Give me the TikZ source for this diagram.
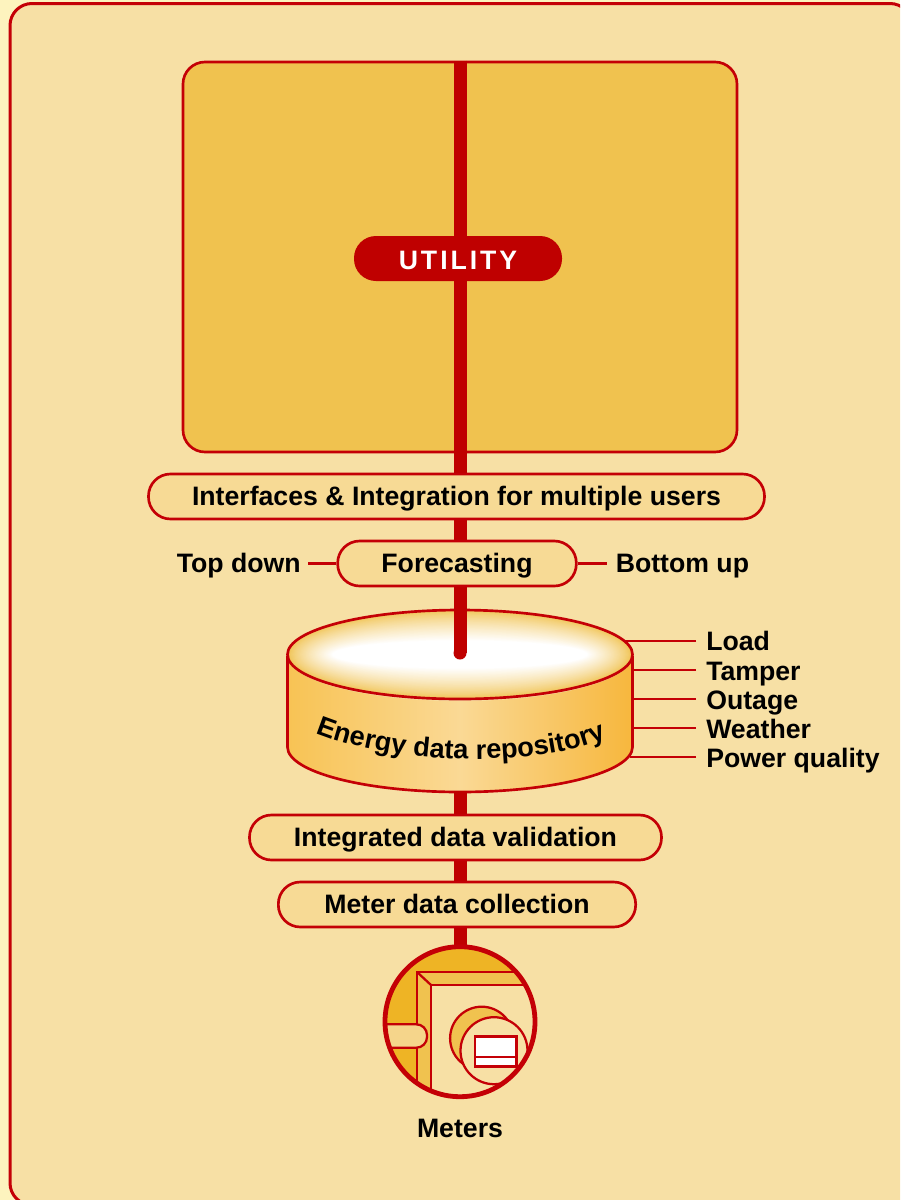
\documentclass[tikz,border=0pt]{standalone}
\usepackage{fontspec}
\setmainfont{Liberation Sans}
\usetikzlibrary{decorations.text}
\definecolor{outerbg}{HTML}{FDF3BE}
\definecolor{panel}{HTML}{F7E0A5}
\definecolor{boxfill}{HTML}{F0C24F}
\definecolor{pillfill}{HTML}{F7DA95}
\definecolor{red}{HTML}{C40006}
\definecolor{barred}{HTML}{BF0000}
\definecolor{deep}{HTML}{EEB425}
\definecolor{pipefill}{HTML}{F5D58B}
\definecolor{sideL}{HTML}{F8C354}
\definecolor{sideM}{HTML}{FAD995}
\definecolor{sideR}{HTML}{F7B73D}
\newcommand{\lbl}{\fontsize{20pt}{22pt}\selectfont\bfseries}
\tikzset{
  px/.style={x=0.75pt,y=-0.75pt},
  outline/.style={draw=red,line width=2pt},
  thin outline/.style={draw=red,line width=1.7pt},
  bar/.style={draw=barred,line width=9.75pt},
  pill/.style={outline,fill=pillfill,rounded corners=16.5pt,minimum height=33.75pt,inner sep=0pt,font=\lbl,text height=14.2pt,text depth=0pt},
  label/.style={font=\lbl,inner sep=0pt,text height=14.2pt,text depth=0pt},
  leader/.style={draw=red,line width=2pt}
}
\begin{document}
\begin{tikzpicture}[px]
\useasboundingbox (0,0) rectangle (900,1200);
\fill[outerbg] (0,0) rectangle (900,1200);
\begin{scope}
\clip (0,0) rectangle (900,1200);
\draw[outline,line width=2.25pt,fill=panel,rounded corners=16.5pt] (10,3.5) rectangle (912,1205);
\end{scope}
\node[outline,fill=boxfill,rounded corners=16.5pt,minimum width=415.5pt,minimum height=292.5pt,inner sep=0pt] (utilbox) at (460,257) {};
% repository cylinder
\coordinate (cyltop) at (460,654.5);
\coordinate (cylbot) at (460,791);
\coordinate (discend) at (460,653);
\path[left color=sideL,right color=sideR,middle color=sideM]
  (287.5,656) -- (287.5,747) arc[start angle=180,end angle=0,x radius=172.5,y radius=45] -- (632.5,656) arc[start angle=0,end angle=180,x radius=172.5,y radius=45] -- cycle;
\draw[outline] (287.5,656) -- (287.5,747) arc[start angle=180,end angle=0,x radius=172.5,y radius=45] -- (632.5,656);
\foreach \i in {0,...,40}{
  \pgfmathsetmacro{\rx}{172.5-45*\i/40}
  \pgfmathsetmacro{\ry}{45-31*\i/40}
  \pgfmathsetmacro{\pc}{100*(\i/40)^0.75}
  \fill[white!\pc!boxfill] (cyltop) ellipse[x radius=\rx,y radius=\ry];
}
\draw[outline] (cyltop) ellipse[x radius=172.5,y radius=44.5];
% main bars
\draw[bar] (utilbox.north) -- (discend);
\fill[barred] (discend) circle[radius=6.5];
\draw[bar] (cylbot) -- (460,950);
% pills
\node[fill=barred,rounded corners=16.5pt,minimum width=156pt,minimum height=33.75pt,inner sep=0pt,text=white,font=\fontsize{20pt}{22pt}\selectfont\bfseries,text height=16pt,text depth=0pt] (utility) at (458,258.5) {\addfontfeature{LetterSpace=11}UTILITY};
\node[pill,minimum width=462pt] (iface) at (456.5,496.5) {Interfaces \& Integration for multiple users};
\node[pill,minimum width=179pt] (forecast) at (457,563.5) {Forecasting};
\node[pill,minimum width=309pt] (valid) at (455.5,837.5) {Integrated data validation};
\node[pill,minimum width=268pt] (collect) at (457,904.5) {Meter data collection};
% forecasting side labels
\node[label,anchor=east] (topdown) at (301,563.5) {Top down};
\node[label,anchor=west] (bottomup) at (615.5,563.5) {Bottom up};
\draw[leader] (308,563.5) -- (forecast.west);
\draw[leader] (forecast.east) -- (607,563.5);
% repository labels
\node[label,anchor=west] (load) at (706,641) {Load};
\node[label,anchor=west] (tamper) at (706,671) {Tamper};
\node[label,anchor=west] (outage) at (706,700) {Outage};
\node[label,anchor=west] (weather) at (706,729) {Weather};
\node[label,anchor=west] (quality) at (706,758.5) {Power quality};
\coordinate (l1) at (696,641); \coordinate (l2) at (696,670); \coordinate (l3) at (696,699); \coordinate (l4) at (696,728); \coordinate (l5) at (696,757);
\draw[leader] (l1) -- (623,641);
\draw[leader] (l2) -- (633,670);
\draw[leader] (l3) -- (633,699);
\draw[leader] (l4) -- (633,728);
\draw[leader] (l5) -- (630,757);
\path[decorate,decoration={text along path,text align=center,
  text={|\fontsize{20.4pt}{22pt}\selectfont\bfseries|Energy data repository}}]
  (316,733) .. controls (390,763) and (530,770) .. (606,738);
% meter
\coordinate (mc) at (460,1021.7);
\begin{scope}
\clip (mc) circle[radius=75];
\fill[deep] (mc) circle[radius=75];
\fill[boxfill] (417.3,972.3) rectangle (540,1100);
\fill[panel] (431,985) rectangle (540,1100);
\draw[thin outline] (417.3,1100) -- (417.3,972.3) -- (540,972.3);
\draw[thin outline] (431,1100) -- (431,985) -- (540,985);
\draw[thin outline] (417.3,972.3) -- (431,985);
\draw[thin outline,fill=pipefill,rounded corners=8pt] (370,1024.3) -- (427,1024.3) -- (427,1047.7) -- (370,1047.7);
\draw[thin outline,fill=boxfill] (481.7,1038.3) circle[radius=31.6];
\draw[thin outline,fill=panel] (494,1050.7) circle[radius=33.5];
\draw[thin outline,line width=2.2pt,fill=white] (475,1036.8) rectangle (516.5,1066.7);
\draw[thin outline] (475,1056.7) -- (516.5,1056.7);
\end{scope}
\node[circle,draw=red,line width=3.6pt,minimum size=112.5pt,inner sep=0pt] (meter) at (mc) {};
\node[label] (meters) at (460,1128) {Meters};
\end{tikzpicture}
\end{document}
